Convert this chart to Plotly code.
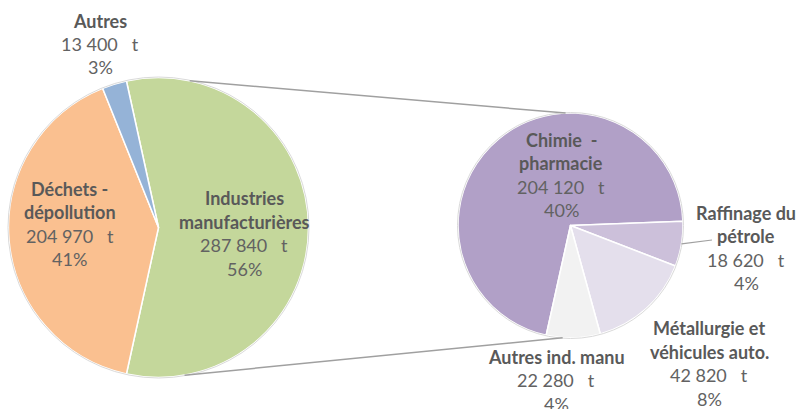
import math
import plotly.graph_objects as go

# ---------------- data ----------------
main_names = [["Industries", "manufacturières"], ["Déchets -", "dépollution"], ["Autres"]]
main_values = [287840, 204970, 13400]
main_pct = ["56%", "41%", "3%"]
main_colors = ["#C4D79B", "#FAC090", "#95B3D7"]

sub_names = [["Chimie  -", "pharmacie"], ["Raffinage du", "pétrole"],
             ["Métallurgie et", "véhicules auto."], ["Autres ind. manu"]]
sub_values = [204120, 18620, 42820, 22280]
sub_pct = ["40%", "4%", "8%", "4%"]
sub_colors = ["#B1A0C7", "#CCC0DA", "#E4DFEC", "#F2F2F2"]

# ---------------- layout params ----------------
W, H = 798, 409
main_c, main_r = (158.5, 227.5), 150.0
sub_c, sub_r = (570.5, 225.5), 112.5
sub_rotation = 192.5
LINE = 23.5
FONT = "Lato"
FSIZE = 18
NAME_COL = "#595959"
VAL_COL = "#626262"

# label block centres, offsets (px) from pie centre
main_lab_off = [(85.5, 6), (-89, -3.5), (-58.5, -183.5)]
sub_lab_off = [(-9.5, -50.5), (175.5, 22.5), (138.5, 138), (-14.5, 154.5)]


def px2paper(x, y):
    return x / W, 1 - y / H


def domain(c, r):
    x0, y1 = px2paper(c[0] - r, c[1] - r)
    x1, y0 = px2paper(c[0] + r, c[1] + r)
    return dict(x=[x0, x1], y=[y0, y1])


def fmt(v):
    return f"{v:,}".replace(",", "\u00a0") + "\u00a0\u00a0\u00a0t"


def on_circle(c, r, bearing):
    a = math.radians(bearing)
    return c[0] + r * math.sin(a), c[1] - r * math.cos(a)


main_total = sum(main_values)
main_rotation = 90 - 180 * main_values[0] / main_total

fig = go.Figure()
fig.add_trace(go.Pie(
    values=main_values, labels=[" ".join(n) for n in main_names],
    marker=dict(colors=main_colors, line=dict(color="white", width=1.5)),
    sort=False, direction="clockwise", rotation=main_rotation,
    textinfo="none", hoverinfo="skip", showlegend=False,
    domain=domain(main_c, main_r)))
fig.add_trace(go.Pie(
    values=sub_values, labels=[" ".join(n) for n in sub_names],
    marker=dict(colors=sub_colors, line=dict(color="white", width=1.5)),
    sort=False, direction="clockwise", rotation=sub_rotation,
    textinfo="none", hoverinfo="skip", showlegend=False,
    domain=domain(sub_c, sub_r)))

annotations = []


def add_block(c, off, names, value, pct):
    lines = [(n, True) for n in names] + [(fmt(value), False), (pct, False)]
    cx, cy = c[0] + off[0], c[1] + off[1]
    n = len(lines)
    for i, (t, bold) in enumerate(lines):
        y = cy + (i - (n - 1) / 2) * LINE
        px, py = px2paper(cx, y)
        annotations.append(dict(
            x=px, y=py, xref="paper", yref="paper", showarrow=False,
            text=f"<b>{t}</b>" if bold else t,
            xanchor="center", yanchor="middle",
            font=dict(family=FONT, size=FSIZE, color=NAME_COL if bold else VAL_COL)))


for names, v, p, off in zip(main_names, main_values, main_pct, main_lab_off):
    add_block(main_c, off, names, v, p)
for names, v, p, off in zip(sub_names, sub_values, sub_pct, sub_lab_off):
    add_block(sub_c, off, names, v, p)

shapes = []
# faint outer outlines
for c, r in [(main_c, main_r), (sub_c, sub_r)]:
    x0, y1 = px2paper(c[0] - r - 0.5, c[1] - r - 0.5)
    x1, y0 = px2paper(c[0] + r + 0.5, c[1] + r + 0.5)
    shapes.append(dict(type="circle", xref="paper", yref="paper",
                       x0=x0, x1=x1, y0=y0, y1=y1,
                       line=dict(color="#DADADA", width=1)))

# connector lines between pies
for b_main, b_sub in [(12, -2.5), (170, 184)]:
    p1 = px2paper(*on_circle(main_c, main_r, b_main))
    p2 = px2paper(*on_circle(sub_c, sub_r, b_sub))
    shapes.append(dict(type="line", xref="paper", yref="paper",
                       x0=p1[0], y0=p1[1], x1=p2[0], y1=p2[1],
                       line=dict(color="#A0A0A0", width=1.5)))

# leader line for Raffinage label
sub_total = sum(sub_values)
start = sub_rotation + 360 * sub_values[0] / sub_total
mid = start + 180 * sub_values[1] / sub_total
lp1 = px2paper(*on_circle(sub_c, sub_r, mid))
lp2 = px2paper(sub_c[0] + 141.5, sub_c[1] + 14.5)
shapes.append(dict(type="line", xref="paper", yref="paper",
                   x0=lp1[0], y0=lp1[1], x1=lp2[0], y1=lp2[1],
                   line=dict(color="#A0A0A0", width=1.2)))

fig.update_layout(
    width=W, height=H, margin=dict(l=0, r=0, t=0, b=0),
    paper_bgcolor="white", plot_bgcolor="white",
    annotations=annotations, shapes=shapes)

fig.write_html("out.html", config={"displayModeBar": False},
               post_script="document.body.style.margin='0';")
